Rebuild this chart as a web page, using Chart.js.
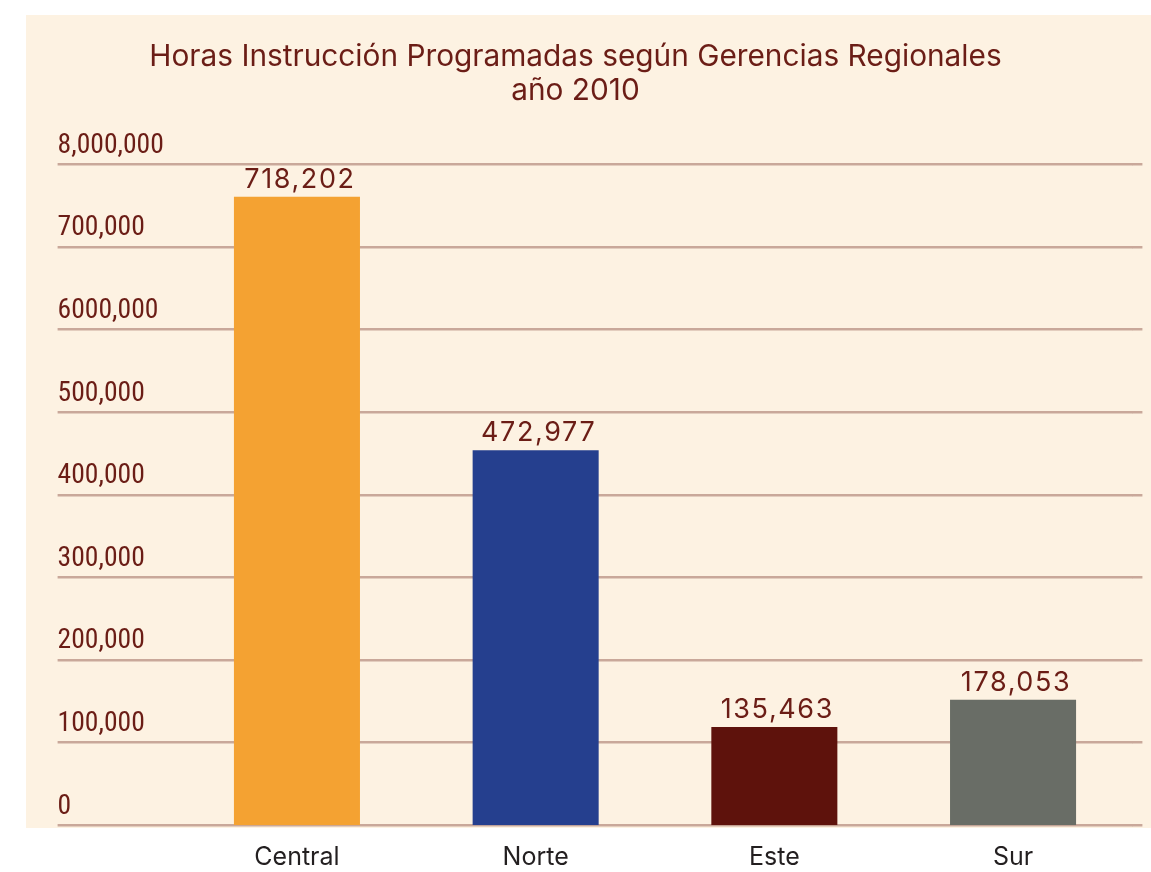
<!DOCTYPE html>
<html><head><meta charset="utf-8">
<script src="https://cdn.jsdelivr.net/npm/chart.js@4/dist/chart.umd.min.js"></script>
<style>html,body{margin:0;padding:0;background:#fff;} #wrap{width:1151px;height:872px;position:relative;}</style>
</head><body><div id="wrap"><canvas id="c" width="1151" height="872"></canvas></div>
<script>
const categories = ['Central', 'Norte', 'Este', 'Sur'];
const barValues = [761000, 454000, 119000, 152000];
const valueLabels = ['718,202', '472,977', '135,463', '178,053'];
const tickValues = [0, 100000, 200000, 300000, 400000, 500000, 600000, 700000, 800000];
const tickLabels = ['0', '100,000', '200,000', '300,000', '400,000', '500,000', '6000,000', '700,000', '8,000,000'];
const titleLines = ['Horas Instrucción Programadas según Gerencias Regionales', 'año 2010'];
const barColors = ['#F4A232', '#253F8E', '#5E120C', '#696D66'];

const RED = '#6B1D16';
const GRID = '#C9A89A';

const panelPlugin = {
  id: 'panel',
  beforeDraw(chart) {
    const ctx = chart.ctx;
    ctx.save();
    ctx.fillStyle = '#FDF2E2';
    ctx.fillRect(26, 15, 1125, 813);
    ctx.restore();
  }
};

const valueLabelPlugin = {
  id: 'valueLabels',
  afterDatasetsDraw(chart) {
    const ctx = chart.ctx;
    const meta = chart.getDatasetMeta(0);
    ctx.save();
    ctx.font = '27px Inter';
    ctx.letterSpacing = '1.6px';
    ctx.fillStyle = RED;
    ctx.textAlign = 'center';
    ctx.textBaseline = 'alphabetic';
    meta.data.forEach((bar, i) => {
      ctx.fillText(valueLabels[i], bar.x + 3, bar.y - 9);
    });
    ctx.restore();
  }
};

new Chart(document.getElementById('c'), {
  type: 'bar',
  data: {
    labels: categories,
    datasets: [{
      data: barValues,
      backgroundColor: barColors,
      borderWidth: 0,
      barPercentage: 0.528,
      categoryPercentage: 1
    }]
  },
  options: {
    responsive: false,
    animation: false,
    layout: { padding: 0 },
    plugins: {
      legend: { display: false },
      tooltip: { enabled: false },
      title: {
        display: true,
        text: titleLines,
        color: RED,
        font: { family: 'Inter', size: 29.8, weight: 'normal', lineHeight: 1.14 },
        padding: { top: 39.8, bottom: 56.7 }
      }
    },
    scales: {
      pad: {
        type: 'linear',
        position: 'left',
        weight: 10,
        grid: { display: false, drawTicks: false },
        border: { display: false },
        ticks: { display: false },
        afterFit(s) { s.width = 57.6; }
      },
      x: {
        grid: { display: false, drawTicks: false },
        border: { display: false },
        ticks: {
          color: '#231F20',
          font: { family: 'Inter', size: 25 },
          padding: 16.7,
          maxRotation: 0
        },
        afterFit(s) { s.height = 46.7; }
      },
      y: {
        position: 'left',
        min: 0,
        max: 800000,
        grid: { color: GRID, lineWidth: 2.5, tickLength: 120, drawTicks: true },
        border: { display: false },
        ticks: {
          stepSize: 100000,
          crossAlign: 'far',
          labelOffset: -18.5,
          color: RED,
          font: { family: 'Roboto', size: 27.6, weight: 'normal condensed' },
          callback(v) { const i = tickValues.indexOf(v); return i >= 0 ? tickLabels[i] : ''; }
        },
        afterFit(s) { s.width = 120; }
      },
      y2: {
        position: 'right',
        min: 0,
        max: 800000,
        grid: { color: GRID, lineWidth: 2.5, tickLength: 10, drawOnChartArea: false },
        border: { display: false },
        ticks: { display: false, stepSize: 100000 },
        afterFit(s) { s.width = 18.6; }
      }
    }
  },
  plugins: [panelPlugin, valueLabelPlugin]
});
</script>
</body></html>
